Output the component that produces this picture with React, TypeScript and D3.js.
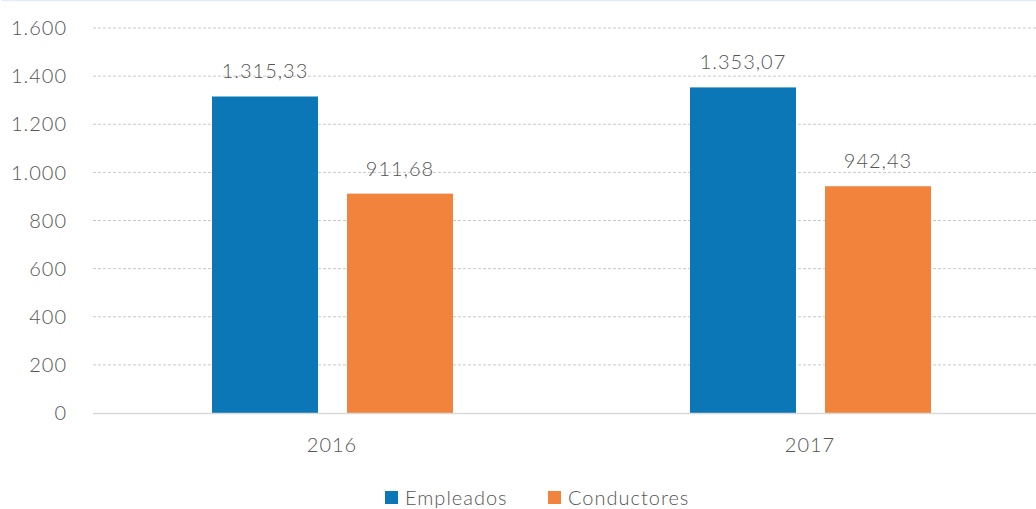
import React from "react";
import * as d3 from "d3";

const categories = ["2016", "2017"];
const seriesNames = ["Empleados", "Conductores"];
const empleados = [1315.33, 1353.07];
const conductores = [911.68, 942.43];
const valueLabels = [["1.315,33", "911,68"], ["1.353,07", "942,43"]];
const yTicks = [0, 200, 400, 600, 800, 1000, 1200, 1400, 1600];
const colors = ["#0b77b6", "#f2833c"];

const W = 1036, H = 509;
const FONT = "Lato, 'Open Sans', sans-serif";
const FS = 20;
const LS = 1;

const fmtTick = (v: number) => (v >= 1000 ? d3.format(",")(v).replace(/,/g, ".") : String(v));

export default function App() {
  const y = d3.scaleLinear().domain([0, 1600]).range([413, 28]);
  const x0 = d3.scaleBand().domain(categories).range([93, 1049]).paddingInner(0).paddingOuter(0);
  const x1 = d3.scaleBand().domain(seriesNames).range([212, 453]).paddingInner(0.215);
  const series = [empleados, conductores];
  const textColor = "#555555";
  const txt = { fontFamily: FONT, fontSize: FS, fontWeight: 300, fill: textColor, letterSpacing: LS } as const;
  return (
    <svg width={W} height={H} style={{ position: "absolute", left: 0, top: 0, background: "#fff" }}>
      <line x1={2} x2={W} y1={0.5} y2={0.5} stroke="#e2eef7" strokeWidth={1.5} />
      {yTicks.map((t) => (
        <g key={t}>
          {t > 0 && (
            <line x1={93} x2={W} y1={y(t)} y2={y(t)} stroke="#c8c8c8" strokeWidth={1} strokeDasharray="3,2" />
          )}
          <text x={67} y={y(t)} dy="0.36em" textAnchor="end" {...txt}>
            {fmtTick(t)}
          </text>
        </g>
      ))}
      {categories.map((c, ci) => (
        <g key={c} transform={`translate(${x0(c)! - 93},0)`}>
          {seriesNames.map((s, si) => {
            const v = series[si][ci];
            const bx = x1(s)!;
            const bw = x1.bandwidth();
            return (
              <g key={s}>
                <rect x={bx} y={y(v)} width={bw} height={y(0) - y(v)} fill={colors[si]} />
                <text x={bx + bw / 2} y={y(v) - 18} textAnchor="middle" {...txt}>
                  {valueLabels[ci][si]}
                </text>
              </g>
            );
          })}
          <text x={93 + x0.bandwidth() / 2} y={452} textAnchor="middle" {...txt}>
            {c}
          </text>
        </g>
      ))}
      <line x1={93} x2={W} y1={y(0) + 0.5} y2={y(0) + 0.5} stroke="#d9d9d9" strokeWidth={1.5} />
      {seriesNames.map((s, i) => {
        const lx = i === 0 ? 385 : 548;
        return (
          <g key={s}>
            <rect x={lx} y={491} width={13} height={13} fill={colors[i]} />
            <text x={lx + 20} y={505} {...txt}>
              {s}
            </text>
          </g>
        );
      })}
    </svg>
  );
}
